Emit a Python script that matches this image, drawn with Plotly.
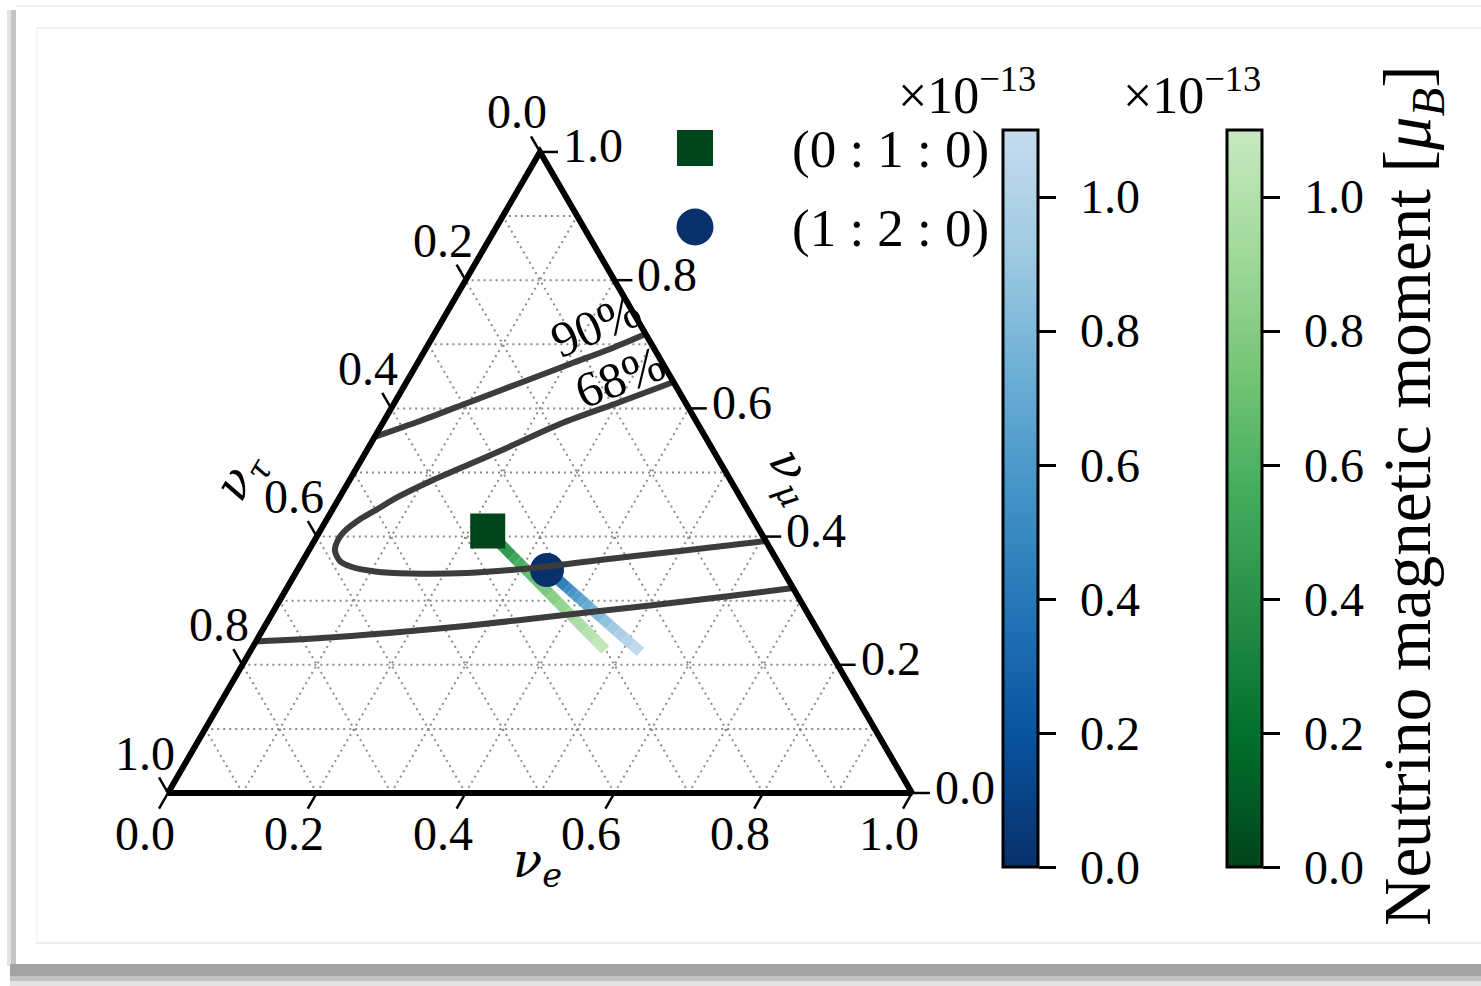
import numpy as np
import plotly.graph_objects as go
from plotly.colors import sample_colorscale

W, H = 1481, 986
SERIF = "Liberation Serif"
GREEK = "DejaVu Serif"

# ---------------------------------------------------------------- data
# ternary axis ticks (same values on all three sides)
TICK_VALUES = [0.0, 0.2, 0.4, 0.6, 0.8, 1.0]
TICK_LABELS = ["0.0", "0.2", "0.4", "0.6", "0.8", "1.0"]
GRID_VALUES = [0.1, 0.2, 0.3, 0.4, 0.5, 0.6, 0.7, 0.8, 0.9]

# confidence contours as (nu_e, nu_mu) flavour fractions; nu_tau = 1 - nu_e - nu_mu
C90_UP_E = [0.0, 0.0485, 0.1009, 0.1533, 0.2057, 0.2478, 0.2839]
C90_UP_MU = [0.5554, 0.5803, 0.6100, 0.6396, 0.6693, 0.6927, 0.7161]
C90_LO_E = [0.0, 0.0964, 0.1862, 0.2752, 0.3884, 0.5015, 0.6017, 0.6802]
C90_LO_MU = [0.2363, 0.2426, 0.2512, 0.2613, 0.2769, 0.2925, 0.3073, 0.3198]
C68_E = [0.6069, 0.4994, 0.3988, 0.3151, 0.2303, 0.1541, 0.1054, 0.0710, 0.0502,
         0.0357, 0.0311, 0.0340, 0.0437, 0.0588, 0.0782, 0.1120, 0.1492, 0.1794,
         0.2390, 0.3025, 0.3588]
C68_MU = [0.3931, 0.3775, 0.3635, 0.3510, 0.3432, 0.3424, 0.3456, 0.3526, 0.3619,
          0.3775, 0.3947, 0.4103, 0.4259, 0.4415, 0.4618, 0.4883, 0.5133, 0.5335,
          0.5757, 0.6100, 0.6412]

# neutrino magnetic moment scan, in units of 1e-13 mu_B
MU_SCAN = [0.0, 0.2, 0.3, 0.4, 0.5, 0.55, 0.6, 0.65, 0.7, 0.75, 0.8, 0.85, 0.9,
           0.95, 1.0, 1.05, 1.1]
# flavour ratio at Earth along the scan, source (0:1:0)
GREEN_E = [0.2253, 0.2336, 0.2440, 0.2585, 0.2771, 0.2880, 0.3000, 0.3129, 0.3269,
           0.3419, 0.3580, 0.3751, 0.3933, 0.4124, 0.4327, 0.4539, 0.4762]
GREEN_MU = [0.4088, 0.4027, 0.3950, 0.3842, 0.3704, 0.3624, 0.3536, 0.3440, 0.3336,
            0.3225, 0.3106, 0.2979, 0.2845, 0.2703, 0.2553, 0.2396, 0.2231]
# flavour ratio at Earth along the scan, source (1:2:0)
BLUE_E = [0.3355, 0.3418, 0.3496, 0.3606, 0.3747, 0.3829, 0.3919, 0.4017, 0.4123,
          0.4236, 0.4358, 0.4487, 0.4624, 0.4769, 0.4922, 0.5083, 0.5251]
BLUE_MU = [0.3479, 0.3437, 0.3384, 0.3310, 0.3215, 0.3159, 0.3099, 0.3032, 0.2961,
           0.2884, 0.2803, 0.2715, 0.2623, 0.2525, 0.2422, 0.2314, 0.2200]

SOURCE_LABELS = ["(0 : 1 : 0)", "(1 : 2 : 0)"]
CB_TICKS = [0.0, 0.2, 0.4, 0.6, 0.8, 1.0]
CB_LABELS = ["0.0", "0.2", "0.4", "0.6", "0.8", "1.0"]

# truncated, reversed Blues / Greens colour maps
BLUES = [[0.0, "rgb(8,48,107)"], [1 / 6, "rgb(8,81,156)"], [2 / 6, "rgb(33,113,181)"],
         [3 / 6, "rgb(66,146,198)"], [4 / 6, "rgb(107,174,214)"],
         [5 / 6, "rgb(158,202,225)"], [1.0, "rgb(198,219,239)"]]
GREENS = [[0.0, "rgb(0,68,27)"], [1 / 6, "rgb(0,109,44)"], [2 / 6, "rgb(35,139,69)"],
          [3 / 6, "rgb(65,171,93)"], [4 / 6, "rgb(116,196,118)"],
          [5 / 6, "rgb(161,217,155)"], [1.0, "rgb(199,233,192)"]]

# ---------------------------------------------------------------- geometry
SQ3 = np.sqrt(3) / 2
X0_PX, Y0_PX = 168, 793          # pixel position of the nu_tau corner
SX, SY = 744.0, 740.2            # pixels per cartesian unit
CB_BOTTOM, CB_LEN = 867, 737     # colour-bar placement in pixels


def tern(ne, nm):
    """(nu_e, nu_mu) -> cartesian point of the equilateral triangle."""
    ne = np.asarray(ne, dtype=float)
    nm = np.asarray(nm, dtype=float)
    return ne + nm / 2, nm * SQ3


def pxx(px):
    return px / W


def pxy(py):
    return 1 - py / H


fig = go.Figure()
shapes = []
annotations = []

# dotted grid
for v in GRID_VALUES:
    for (a, b) in [((0, v), (1 - v, v)),          # constant nu_mu
                   ((v, 0), (v, 1 - v)),          # constant nu_e
                   ((1 - v, 0), (0, 1 - v))]:     # constant nu_tau
        xa, ya = tern(*a)
        xb, yb = tern(*b)
        shapes.append(dict(type="line", xref="x", yref="y", x0=float(xa), y0=float(ya),
                           x1=float(xb), y1=float(yb), layer="below",
                           line=dict(color="#8c8c8c", width=2, dash="2px,4px")))

# magnetic-moment tracks, one coloured segment per scan step
CMAX = max(MU_SCAN)
for e_list, m_list, scale in [(GREEN_E, GREEN_MU, GREENS), (BLUE_E, BLUE_MU, BLUES)]:
    xs, ys = tern(e_list, m_list)
    for i in range(len(MU_SCAN) - 1):
        mid = 0.5 * (MU_SCAN[i] + MU_SCAN[i + 1]) / CMAX
        col = sample_colorscale(scale, [mid])[0]
        fig.add_trace(go.Scatter(x=xs[i:i + 2], y=ys[i:i + 2], mode="lines",
                                 line=dict(color=col, width=11),
                                 showlegend=False, hoverinfo="skip"))

# invisible traces carrying the two colour bars
for e_list, m_list, scale, cb_px in [(BLUE_E, BLUE_MU, BLUES, 1003),
                                     (GREEN_E, GREEN_MU, GREENS, 1227)]:
    xs, ys = tern(e_list, m_list)
    fig.add_trace(go.Scatter(
        x=xs, y=ys, mode="markers", showlegend=False, hoverinfo="skip",
        marker=dict(size=1, opacity=0, color=MU_SCAN, colorscale=scale, cmin=0,
                    cmax=CMAX, showscale=True,
                    colorbar=dict(x=pxx(cb_px), xanchor="left", xpad=0, xref="paper",
                                  y=pxy(CB_BOTTOM), yanchor="bottom", ypad=0,
                                  yref="paper", len=CB_LEN, lenmode="pixels",
                                  thickness=35, thicknessmode="pixels", outlinewidth=3,
                                  outlinecolor="black", tickvals=CB_TICKS,
                                  ticks="outside", ticklen=17, tickwidth=3,
                                  tickcolor="black", showticklabels=False))))
    # colour-bar tick labels
    for v, lab in zip(CB_TICKS, CB_LABELS):
        annotations.append(dict(x=pxx(cb_px + 75), y=pxy(CB_BOTTOM - v / CMAX * CB_LEN),
                                xref="paper", yref="paper", xanchor="left",
                                yanchor="middle", text=lab, showarrow=False,
                                font=dict(size=48)))

# source markers at zero magnetic moment
gx, gy = tern(GREEN_E[0], GREEN_MU[0])
bx, by = tern(BLUE_E[0], BLUE_MU[0])
fig.add_trace(go.Scatter(x=[gx], y=[gy], mode="markers", showlegend=False,
                         hoverinfo="skip",
                         marker=dict(symbol="square", size=35, color="#00441b")))
fig.add_trace(go.Scatter(x=[bx], y=[by], mode="markers", showlegend=False,
                         hoverinfo="skip",
                         marker=dict(symbol="circle", size=34, color="#08306b")))

# confidence contours
for e_list, m_list in [(C90_UP_E, C90_UP_MU), (C90_LO_E, C90_LO_MU), (C68_E, C68_MU)]:
    xs, ys = tern(e_list, m_list)
    fig.add_trace(go.Scatter(x=xs, y=ys, mode="lines", showlegend=False,
                             hoverinfo="skip",
                             line=dict(color="#3c3c3c", width=6, shape="spline",
                                       smoothing=0.8)))

# triangle boundary
bxs, bys = tern([0, 1, 0, 0], [0, 0, 1, 0])
fig.add_trace(go.Scatter(x=bxs, y=bys, mode="lines", showlegend=False,
                         hoverinfo="skip", line=dict(color="black", width=6)))

# ticks and tick labels on the three sides
TL = 18.0
for v, lab in zip(TICK_VALUES, TICK_LABELS):
    # bottom: nu_e
    x, y = tern(v, 0)
    shapes.append(dict(type="line", xref="x", yref="y", x0=float(x), y0=float(y),
                       x1=float(x - 0.5 * TL / SX), y1=float(y - SQ3 * TL / SY),
                       line=dict(color="black", width=2.5)))
    annotations.append(dict(x=float(x), y=float(y), xref="x", yref="y", text=lab,
                            showarrow=False, xshift=-23, yshift=-40))
    # left: nu_tau
    x, y = tern(0, 1 - v)
    shapes.append(dict(type="line", xref="x", yref="y", x0=float(x), y0=float(y),
                       x1=float(x - 0.5 * TL / SX), y1=float(y + SQ3 * TL / SY),
                       line=dict(color="black", width=2.5)))
    annotations.append(dict(x=float(x), y=float(y), xref="x", yref="y", text=lab,
                            showarrow=False, xshift=-23, yshift=40))
    # right: nu_mu
    x, y = tern(1 - v, v)
    shapes.append(dict(type="line", xref="x", yref="y", x0=float(x), y0=float(y),
                       x1=float(x + TL / SX), y1=float(y),
                       line=dict(color="black", width=2.5)))
    annotations.append(dict(x=float(x), y=float(y), xref="x", yref="y", text=lab,
                            showarrow=False, xanchor="left", xshift=21, yshift=6))

# axis titles
x, y = tern(0.5, 0)
annotations.append(dict(x=float(x), y=float(y), xref="x", yref="y",
                        text="<i>ν<sub>e</sub></i>", showarrow=False,
                        xshift=-3, yshift=-70, font=dict(family=GREEK, size=48)))
x, y = tern(0.5, 0.5)
annotations.append(dict(x=float(x), y=float(y), xref="x", yref="y",
                        text="<i>ν<sub>μ</sub></i>", showarrow=False, textangle=60,
                        xshift=66, yshift=-3, font=dict(family=GREEK, size=48)))
x, y = tern(0.0, 0.5)
annotations.append(dict(x=float(x), y=float(y), xref="x", yref="y",
                        text="<i>ν<sub>τ</sub></i>", showarrow=False, textangle=-60,
                        xshift=-113, yshift=-4, font=dict(family=GREEK, size=48)))

# contour level labels
x, y = tern(0.210, 0.730)
annotations.append(dict(x=float(x), y=float(y), xref="x", yref="y", text="90%",
                        showarrow=False, textangle=-23, font=dict(size=50)))
x, y = tern(0.283, 0.649)
annotations.append(dict(x=float(x), y=float(y), xref="x", yref="y", text="68%",
                        showarrow=False, textangle=-21, font=dict(size=50)))

# legend
shapes.append(dict(type="rect", xref="paper", yref="paper", x0=pxx(677), x1=pxx(713),
                   y0=pxy(166), y1=pxy(130), fillcolor="#00441b", line=dict(width=0)))
shapes.append(dict(type="circle", xref="paper", yref="paper", x0=pxx(676.5),
                   x1=pxx(713.5), y0=pxy(245.5), y1=pxy(208.5), fillcolor="#08306b",
                   line=dict(width=0)))
for lab, cy in zip(SOURCE_LABELS, [150, 228]):
    annotations.append(dict(x=pxx(890), y=pxy(cy), xref="paper", yref="paper",
                            xanchor="center", yanchor="middle",
                            text=lab, showarrow=False, font=dict(size=53)))

# colour-bar scale factors and title
for right in [1038, 1263]:
    annotations.append(dict(x=pxx(right), y=pxy(92), xref="paper", yref="paper",
                            xanchor="right", yanchor="middle",
                            text="×10<sup>−13</sup>",
                            showarrow=False, font=dict(size=52)))
annotations.append(dict(x=pxx(1412), y=pxy(496), xref="paper", yref="paper",
                        xanchor="center", yanchor="middle",
                        text="Neutrino magnetic moment [<i>μ<sub>B</sub></i>]",
                        textangle=-90, showarrow=False, font=dict(size=67)))

# page frame with a soft drop shadow
shapes += [
    dict(type="rect", xref="paper", yref="paper", x0=pxx(7), x1=pxx(11), y0=pxy(966),
         y1=pxy(10), fillcolor="#e2e2e2", line=dict(width=0), layer="below"),
    dict(type="rect", xref="paper", yref="paper", x0=pxx(11), x1=pxx(16), y0=pxy(966),
         y1=pxy(10), fillcolor="#c4c4c4", line=dict(width=0), layer="below"),
    dict(type="rect", xref="paper", yref="paper", x0=pxx(10), x1=1, y0=pxy(976),
         y1=pxy(964), fillcolor="#a3a3a3", line=dict(width=0), layer="below"),
    dict(type="rect", xref="paper", yref="paper", x0=pxx(10), x1=1, y0=pxy(981),
         y1=pxy(976), fillcolor="#c2c2c2", line=dict(width=0), layer="below"),
    dict(type="rect", xref="paper", yref="paper", x0=pxx(10), x1=1, y0=pxy(986),
         y1=pxy(981), fillcolor="#e4e4e4", line=dict(width=0), layer="below"),
    dict(type="line", xref="paper", yref="paper", x0=pxx(16), x1=1, y0=pxy(6),
         y1=pxy(6), line=dict(color="#f0f0f0", width=2), layer="below"),
    dict(type="line", xref="paper", yref="paper", x0=pxx(37), x1=1, y0=pxy(28),
         y1=pxy(28), line=dict(color="#ebebeb", width=1.5), layer="below"),
    dict(type="line", xref="paper", yref="paper", x0=pxx(37), x1=pxx(37), y0=pxy(943),
         y1=pxy(28), line=dict(color="#f4f4f4", width=1.5), layer="below"),
    dict(type="line", xref="paper", yref="paper", x0=pxx(36), x1=1, y0=pxy(943),
         y1=pxy(943), line=dict(color="#e6e6e6", width=1.5), layer="below"),
]

fig.update_layout(
    width=W, height=H,
    margin=dict(l=0, r=0, t=0, b=0, autoexpand=False),
    paper_bgcolor="white", plot_bgcolor="rgba(0,0,0,0)",
    font=dict(family=SERIF, size=48, color="black"),
    xaxis=dict(visible=False, range=[-X0_PX / SX, (W - X0_PX) / SX], domain=[0, 1],
               fixedrange=True),
    yaxis=dict(visible=False, range=[-(H - Y0_PX) / SY, Y0_PX / SY], domain=[0, 1],
               fixedrange=True),
    shapes=shapes, annotations=annotations, showlegend=False,
)

fig.write_html("out.html")
